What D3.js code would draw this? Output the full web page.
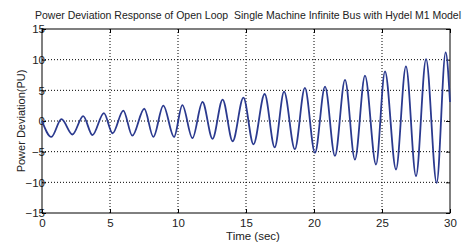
<!DOCTYPE html>
<html>
<head>
<meta charset="utf-8">
<script src="https://cdn.jsdelivr.net/npm/d3@7"></script>
<style>
  body { margin: 0; background: #fff; }
  text { font-family: "Liberation Sans", Arial, sans-serif; fill: #222; }
</style>
</head>
<body>
<svg id="chart" width="470" height="245"></svg>
<script>
// time (sec) of each turning point
const time_sec = [0, 0.69, 1.43, 2.24, 3.03, 3.71, 4.55, 5.19, 5.98, 6.64, 7.52, 8.19, 8.92, 9.71,
    10.32, 11.06, 11.8, 12.54, 13.28, 14.02, 14.81, 15.55, 16.37, 17.11, 17.8, 18.59, 19.33,
    20.07, 20.81, 21.54, 22.28, 23.01, 23.75, 24.56, 25.22, 26.03, 26.76, 27.5, 28.24, 29.02, 29.68, 30];
// power deviation (PU) at those times
const power_dev = [0, -2.6, 0.3, -2.2, 0.8, -2.3, 1.3, -2.0, 1.7, -2.4, 2.0, -2.6, 2.5, -2.6,
    2.6, -2.8, 3.1, -2.9, 3.5, -3.3, 3.8, -3.8, 4.4, -4.3, 4.8, -4.6, 5.4,
    -5.2, 5.6, -5.7, 6.7, -6.3, 7.4, -7.1, 8.1, -7.9, 8.9, -9.0, 10.1, -10.1, 11.2, 3.1];

const x_ticks = [0, 5, 10, 15, 20, 25, 30];
const y_ticks = [-15, -10, -5, 0, 5, 10, 15];

const title_text = 'Power Deviation Response of Open Loop  Single Machine Infinite Bus with Hydel M1 Model';
const x_label = 'Time (sec)';
const y_label = 'Power Deviation(PU)';

(() => {
    // plot box
    const left = 42, right = 450, top = 29, bottom = 213;

    let svg = d3.select('#chart');

    let x_scale = d3.scaleLinear().domain([0, 30]).range([left, right]);
    let y_scale = d3.scaleLinear().domain([-15, 15]).range([bottom, top]);

    // dotted grid
    svg.append('g')
        .selectAll('line')
        .data(x_ticks.slice(1, -1))
        .enter()
        .append('line')
        .attr('x1', (d) => x_scale(d)).attr('x2', (d) => x_scale(d))
        .attr('y1', top).attr('y2', bottom)
        .attr('stroke', '#000').attr('stroke-width', 1)
        .attr('stroke-dasharray', '1,2');

    svg.append('g')
        .selectAll('line')
        .data(y_ticks.slice(1, -1))
        .enter()
        .append('line')
        .attr('x1', left).attr('x2', right)
        .attr('y1', (d) => y_scale(d)).attr('y2', (d) => y_scale(d))
        .attr('stroke', '#000').attr('stroke-width', 1)
        .attr('stroke-dasharray', '1,2');

    // axes with inward ticks, labels outside
    let x_axis = d3.axisBottom(x_scale).tickValues(x_ticks).tickSizeInner(-4).tickSizeOuter(0).tickPadding(6);
    let gx = svg.append('g').attr('transform', `translate(0, ${bottom})`).call(x_axis);
    gx.select('.domain').remove();
    gx.selectAll('text').style('font-size', '11.5px').style('font-family', '"Liberation Sans", Arial, sans-serif').attr('fill', '#222');

    let x_axis_top = d3.axisTop(x_scale).tickValues(x_ticks).tickSizeInner(-4).tickSizeOuter(0).tickFormat('');
    let gxt = svg.append('g').attr('transform', `translate(0, ${top})`).call(x_axis_top);
    gxt.select('.domain').remove();

    let y_axis = d3.axisLeft(y_scale).tickValues(y_ticks).tickSizeInner(-4).tickSizeOuter(0).tickPadding(-3);
    let gy = svg.append('g').attr('transform', `translate(${left}, 0)`).call(y_axis);
    gy.select('.domain').remove();
    gy.selectAll('text').style('font-size', '11.5px').style('font-family', '"Liberation Sans", Arial, sans-serif').attr('fill', '#222');

    let y_axis_right = d3.axisRight(y_scale).tickValues(y_ticks).tickSizeInner(-4).tickSizeOuter(0).tickFormat('');
    let gyr = svg.append('g').attr('transform', `translate(${right}, 0)`).call(y_axis_right);
    gyr.select('.domain').remove();

    // frame
    svg.append('rect')
        .attr('x', left).attr('y', top)
        .attr('width', right - left).attr('height', bottom - top)
        .attr('fill', 'none').attr('stroke', '#000').attr('stroke-width', 1);

    // response curve
    let points = time_sec.map((t, i) => ({ t: t, v: power_dev[i] }));
    svg.append('path')
        .datum(points)
        .attr('fill', 'none')
        .attr('stroke', '#2b3a8f')
        .attr('stroke-width', 1.8)
        .attr('d', d3.line()
            .x((d) => x_scale(d.t))
            .y((d) => y_scale(d.v))
            .curve(d3.curveMonotoneX));

    // title and labels
    svg.append('text')
        .attr('x', (left + right) / 2 + 2)
        .attr('y', 19)
        .attr('text-anchor', 'middle')
        .style('font-size', '10.5px')
        .style('white-space', 'pre')
        .text(title_text);

    svg.append('text')
        .attr('x', (left + right) / 2 + 7)
        .attr('y', 240)
        .attr('text-anchor', 'middle')
        .style('font-size', '11.5px')
        .text(x_label);

    svg.append('text')
        .attr('transform', `translate(25, ${(top + bottom) / 2}) rotate(-90)`)
        .attr('text-anchor', 'middle')
        .style('font-size', '11px')
        .text(y_label);
})();
</script>
</body>
</html>
